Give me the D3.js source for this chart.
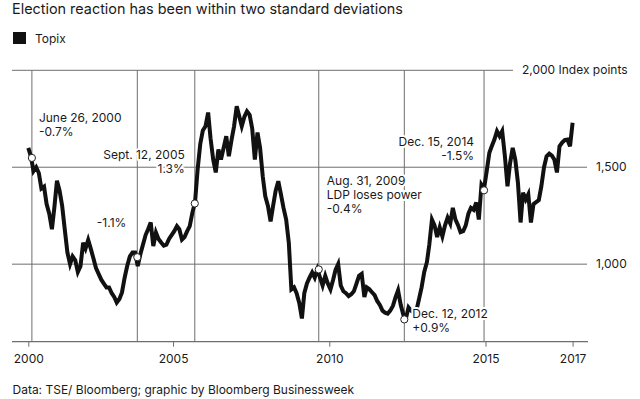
<!DOCTYPE html>
<html lang="en">
<head>
  <meta charset="utf-8" />
  <title>Topix election reaction</title>
  <style>
    body { margin: 0; background: #fff; }
    svg text { font-family: Inter, "Liberation Sans", sans-serif; fill: #1a1a1a; }
    .note { font-size: 12px; paint-order: stroke; stroke: #fff; stroke-width: 4px; stroke-linejoin: round; }
  </style>
  <script src="https://cdn.jsdelivr.net/npm/d3@7"></script>
</head>
<body>
<script>

// monthly Topix level (first month May 2000, last Oct 2017)
const firstMonth = "2000-05-15";
const topix = [
  1600, 1555, 1480, 1500, 1470, 1390, 1400, 1310,                  // 2000 (May-Dec)
  1260, 1180, 1290, 1430, 1380, 1300, 1180, 1060, 1000, 1040, 1020, 960,   // 2001
  990, 1110, 1080, 1125, 1080, 1030, 980, 950, 920, 900, 880, 880,         // 2002
  850, 830, 802, 820, 854, 930, 990, 1040, 1060, 1060, 990, 1050,          // 2003
  1100, 1150, 1180, 1215, 1093, 1163, 1130, 1112, 1095, 1100, 1130, 1150,  // 2004
  1170, 1196, 1180, 1127, 1140, 1170, 1196, 1266, 1320, 1488, 1620, 1690,  // 2005
  1711, 1782, 1650, 1540, 1473, 1591, 1540, 1600, 1660, 1557, 1640, 1711,  // 2006
  1814, 1760, 1711, 1760, 1788, 1770, 1700, 1540, 1679, 1600, 1454, 1350,  // 2007
  1300, 1220, 1300, 1380, 1428, 1360, 1290, 1230, 1110, 870, 880, 850,     // 2008
  800, 720, 850, 900, 930, 957, 930, 973, 930, 890, 940, 900,              // 2009
  870, 920, 970, 1000, 890, 860, 850, 835, 845, 860, 900, 940,             // 2010
  950, 830, 880, 870, 855, 840, 810, 790, 760, 750, 745, 760,              // 2011
  785, 830, 865, 790, 740, 720, 777, 760, 750, 760, 820, 880,              // 2012
  960, 1010, 1100, 1230, 1200, 1140, 1190, 1144, 1200, 1240, 1210, 1290,   // 2013
  1230, 1200, 1165, 1170, 1200, 1260, 1290, 1280, 1318, 1230, 1410, 1390,  // 2014
  1480, 1575, 1608, 1643, 1686, 1660, 1686, 1560, 1402, 1520, 1600, 1540,  // 2015
  1420, 1215, 1369, 1333, 1360, 1215, 1310, 1320, 1330, 1402, 1500, 1557,  // 2016
  1570, 1560, 1540, 1473, 1608, 1627, 1640, 1643, 1608, 1729               // 2017 (Jan-Oct)
];

// elections marked on the chart
const eventDates  = ["2000-06-26", "2003-11-10", "2005-09-12", "2009-08-31", "2012-05-27", "2014-12-15"];
const eventValues = [1548, 1036, 1313, 973, 715, 1381];
const eventLabels = [
  ["June 26, 2000", "-0.7%"],
  ["-1.1%"],
  ["Sept. 12, 2005", "1.3%"],
  ["Aug. 31, 2009", "LDP loses power", "-0.4%"],
  ["Dec. 12, 2012", "+0.9%"],
  ["Dec. 15, 2014", "-1.5%"]
];

// axis ticks
const xTickLabels = ["2000", "2005", "2010", "2015", "2017"];
const yTicks = [1000, 1500, 2000];
const yTickLabels = ["1,000", "1,500", "2,000 Index points"];

// where each note sits next to its marker
const notePos = [
  {dx: 7,   y: 121.7, anchor: "start"},
  {dx: -11, y: 226.7, anchor: "end"},
  {dx: -10, y: 159.3, anchor: "end"},
  {dx: 8,   y: 185,   anchor: "start"},
  {dx: 8,   y: 318.3, anchor: "start"},
  {dx: -10, y: 145.7, anchor: "end"}
];

const W = 640, H = 399;
const parse = d3.timeParse("%Y-%m-%d");

const start = parse(firstMonth);
const data = topix.map((v, i) => ({date: d3.timeMonth.offset(start, i), value: v}));
const events = eventDates.map((d, i) => ({date: parse(d), value: eventValues[i], lines: eventLabels[i], pos: notePos[i]}));

const svg = d3.select("body")
  .append("svg")
    .attr("width", W)
    .attr("height", H);

svg.append("rect").attr("width", W).attr("height", H).attr("fill", "#fff");

const x = d3.scaleTime()
  .domain([data[0].date, data[data.length - 1].date])
  .range([28.3, 572.6]);

const y = d3.scaleLinear()
  .domain([600, 2000])
  .range([341.7, 70.3]);

// title + legend
svg.append("text")
  .attr("x", 12).attr("y", 14)
  .style("font-size", "14.4px")
  .text("Election reaction has been within two standard deviations");

svg.append("rect")
  .attr("x", 13).attr("y", 32).attr("width", 13).attr("height", 12)
  .attr("fill", "#111");
svg.append("text")
  .attr("x", 35).attr("y", 42.7)
  .style("font-size", "12px")
  .text("Topix");

// horizontal grid lines with labels on the right
const grid = svg.append("g");
grid.selectAll("line")
  .data(yTicks)
  .join("line")
    .attr("x1", 12)
    .attr("x2", d => d === 2000 ? 513 : 587)
    .attr("y1", d => y(d))
    .attr("y2", d => y(d))
    .attr("stroke", "#6e6e6e")
    .attr("stroke-width", 1);
grid.selectAll("text")
  .data(yTicks)
  .join("text")
    .attr("x", d => d === 2000 ? 522 : 596)
    .attr("y", d => y(d) + 3.8)
    .style("font-size", "12px")
    .text((d, i) => yTickLabels[i]);

// vertical lines at each election
svg.append("g").selectAll("line")
  .data(events)
  .join("line")
    .attr("x1", d => x(d.date))
    .attr("x2", d => x(d.date))
    .attr("y1", y(2000))
    .attr("y2", y(600))
    .attr("stroke", "#6e6e6e")
    .attr("stroke-width", 1);

// x axis
const tickDates = [data[0].date, new Date(2005, 0, 1), new Date(2010, 0, 1), new Date(2015, 0, 1), data[data.length - 1].date];
const xAxis = svg.append("g")
  .attr("transform", `translate(0, ${y(600)})`)
  .call(d3.axisBottom(x).tickValues(tickDates).tickFormat((d, i) => xTickLabels[i]).tickSize(5).tickSizeOuter(0));
xAxis.select(".domain").remove();
xAxis.selectAll(".tick line").attr("stroke", "#6e6e6e");
xAxis.selectAll(".tick text")
  .attr("y", 21.6).attr("dy", 0)
  .style("font-size", "12px")
  .style("font-family", "Inter, 'Liberation Sans', sans-serif")
  .attr("fill", "#1a1a1a");
svg.append("line")
  .attr("x1", 12).attr("x2", 588)
  .attr("y1", y(600)).attr("y2", y(600))
  .attr("stroke", "#6e6e6e")
  .attr("stroke-width", 1.3);

// the index line
const line = d3.line()
  .x(d => x(d.date))
  .y(d => y(d.value));
svg.append("path")
  .datum(data)
  .attr("d", line)
  .attr("fill", "none")
  .attr("stroke", "#111")
  .attr("stroke-width", 4)
  .attr("stroke-linejoin", "miter");

// markers
svg.append("g").selectAll("circle")
  .data(events)
  .join("circle")
    .attr("cx", d => x(d.date))
    .attr("cy", d => y(d.value))
    .attr("r", 3.6)
    .attr("fill", "#fff")
    .attr("stroke", "#222")
    .attr("stroke-width", 1);

// notes
const notes = svg.append("g").selectAll("text")
  .data(events)
  .join("text")
    .attr("class", "note")
    .attr("text-anchor", d => d.pos.anchor)
    .attr("x", d => x(d.date) + d.pos.dx)
    .attr("y", d => d.pos.y);
notes.selectAll("tspan")
  .data(d => d.lines.map((t, i) => ({t, i, x: x(d.date) + d.pos.dx})))
  .join("tspan")
    .attr("x", d => d.x)
    .attr("dy", d => d.i === 0 ? 0 : 13.8)
    .text(d => d.t);

// source
svg.append("text")
  .attr("x", 12.5).attr("y", 394)
  .style("font-size", "12px")
  .text("Data: TSE/ Bloomberg; graphic by Bloomberg Businessweek");

</script>
</body>
</html>
